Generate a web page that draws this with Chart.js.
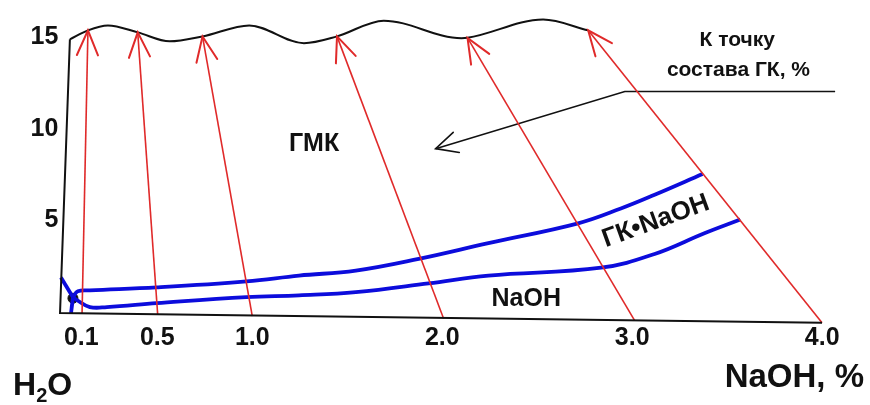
<!DOCTYPE html>
<html><head><meta charset="utf-8">
<script src="https://cdn.jsdelivr.net/npm/chart.js@4.4.1/dist/chart.umd.min.js"></script>
<style>html,body{margin:0;padding:0;background:#fff}#wrap{width:870px;height:405px;position:relative}</style>
</head><body><div id="wrap"><canvas id="c" width="870" height="405"></canvas></div>
<script>
// ---- tick labels ----
const xTickValues = [0.1, 0.5, 1.0, 2.0, 3.0, 4.0];
const yTickValues = [5, 10, 15];

// ---- frame (left side and base line of the diagram) ----
const frameX = [0.040, -0.012, 3.999];
const frameY = [14.89, -0.05, -0.59];

// ---- upper wavy boundary ----
const topX = [0.040, 0.135, 0.240, 0.397, 0.565, 0.738, 0.984, 1.272, 1.446, 1.692, 2.101, 2.133, 2.531, 2.768];
const topY = [14.89, 15.38, 15.65, 15.27, 14.78, 15.05, 15.65, 14.68, 15.05, 15.91, 14.95, 14.97, 15.97, 15.38];

// ---- red tie lines (from base point to upper boundary) ----
const tieBottomX = [0.104, 0.502, 1.000, 2.007, 3.013, 3.999];
const tieBottomY = [-0.07, -0.12, -0.22, -0.35, -0.47, -0.59];
const tieTopX = [0.135, 0.397, 0.738, 1.446, 2.133, 2.768];
const tieTopY = [15.38, 15.27, 15.05, 15.05, 14.97, 15.38];

// ---- blue boundaries ----
const upperBlueX = [0.056, 0.082, 0.145, 0.497, 0.969, 1.246, 1.545, 1.876, 2.243, 2.715, 2.940, 3.118, 3.370];
const upperBlueY = [0.81, 1.13, 1.18, 1.34, 1.67, 1.99, 2.26, 2.90, 3.76, 4.84, 5.65, 6.40, 7.53];
const lowerBlueX = [0.056, 0.077, 0.145, 0.235, 0.497, 0.969, 1.246, 1.545, 1.928, 2.243, 2.836, 3.118, 3.380, 3.569];
const lowerBlueY = [0.81, 0.65, 0.27, 0.27, 0.48, 0.81, 0.91, 1.08, 1.56, 1.99, 2.42, 3.17, 4.30, 5.05];
const stubBlueX = [-0.007, 0.056];
const stubBlueY = [1.88, 0.81];
const downBlueX = [0.056, 0.046];
const downBlueY = [0.81, -0.05];
const dotX = [0.056];
const dotY = [0.75];

// ---- black pointer "К точке состава ГК" ----
const pointerX = [4.068, 2.961, 1.965];
const pointerY = [12.04, 12.04, 8.92];

const FONT = '"Liberation Sans", Arial, Helvetica, sans-serif';
const INK = '#111111';
const RED = '#e02a2a';
const BLUE = '#0c0cdc';
const XMAX = 4.22, YMAX = 16;

const pts = (xs, ys) => xs.map((x, i) => ({x: x, y: ys[i]}));
const line = (data, color, width, tension, extra) => Object.assign({
  data: data, borderColor: color, backgroundColor: color, borderWidth: width,
  tension: tension, showLine: true, pointRadius: 0, clip: false, fill: false
}, extra || {});

const datasets = [];
datasets.push(line(pts(frameX, frameY), INK, 2, 0));
datasets.push(line(pts(topX, topY), INK, 2, 0, {cubicInterpolationMode: 'monotone'}));
for (let i = 0; i < tieBottomX.length; i++) {
  datasets.push(line([{x: tieBottomX[i], y: tieBottomY[i]}, {x: tieTopX[i], y: tieTopY[i]}], RED, 1.6, 0, {arrowHead: {len: 27, ang: 23, width: 2}}));
}
datasets.push(line(pts(upperBlueX, upperBlueY), BLUE, 3.8, 0.4));
datasets.push(line(pts(lowerBlueX, lowerBlueY), BLUE, 3.8, 0.4));
datasets.push(line(pts(stubBlueX, stubBlueY), BLUE, 3.8, 0));
datasets.push(line(pts(downBlueX, downBlueY), BLUE, 3.8, 0));
datasets.push({data: pts(dotX, dotY), showLine: false, pointRadius: 5, pointBackgroundColor: INK, pointBorderColor: INK, clip: false});
datasets.push(line(pts(pointerX, pointerY), INK, 1.6, 0, {arrowHead: {len: 24, ang: 26, width: 1.6}}));

// text notes placed in data units
const notes = [
  {t: 'ГМК', x: 1.325, y: 9.19, size: 25, rot: 0},
  {t: 'К точку', x: 3.553, y: 14.84, size: 21, rot: 0},
  {t: 'состава ГК, %', x: 3.559, y: 13.23, size: 21, rot: 0},
  {t: 'ГК•NaOH', x: 3.124, y: 4.95, size: 26, rot: -20},
  {t: 'NaOH', x: 2.442, y: 0.70, size: 25, rot: 0}
];

const arrowPlugin = {
  id: 'arrowHeads',
  afterDatasetsDraw(chart) {
    const ctx = chart.ctx;
    chart.data.datasets.forEach((ds, i) => {
      if (!ds.arrowHead) return;
      const p = chart.getDatasetMeta(i).data;
      const a = p[p.length - 2], b = p[p.length - 1];
      const th = Math.atan2(b.y - a.y, b.x - a.x);
      const w = ds.arrowHead.ang * Math.PI / 180, L = ds.arrowHead.len;
      ctx.save();
      ctx.strokeStyle = ds.borderColor; ctx.lineWidth = ds.arrowHead.width; ctx.lineCap = 'round';
      ctx.beginPath();
      ctx.moveTo(b.x - L * Math.cos(th - w), b.y - L * Math.sin(th - w));
      ctx.lineTo(b.x, b.y);
      ctx.lineTo(b.x - L * Math.cos(th + w), b.y - L * Math.sin(th + w));
      ctx.stroke();
      ctx.restore();
    });
  }
};

const notesPlugin = {
  id: 'notes',
  afterDraw(chart) {
    const ctx = chart.ctx, sx = chart.scales.x, sy = chart.scales.y;
    ctx.save();
    ctx.fillStyle = INK;
    ctx.textAlign = 'center';
    ctx.textBaseline = 'middle';
    notes.forEach(n => {
      ctx.save();
      ctx.translate(sx.getPixelForValue(n.x), sy.getPixelForValue(n.y));
      ctx.rotate(n.rot * Math.PI / 180);
      ctx.font = 'bold ' + n.size + 'px ' + FONT;
      ctx.fillText(n.t, 0, 0);
      ctx.restore();
    });
    // H2O with subscript, anchored in data units below the origin
    const hx = sx.getPixelForValue(-0.259), hy = sy.getPixelForValue(-4.03);
    ctx.textAlign = 'left';
    ctx.font = 'bold 32px ' + FONT;
    ctx.fillText('H', hx, hy);
    let w = ctx.measureText('H').width;
    ctx.font = 'bold 20px ' + FONT;
    ctx.fillText('2', hx + w, hy + 11);
    w += ctx.measureText('2').width;
    ctx.font = 'bold 32px ' + FONT;
    ctx.fillText('O', hx + w, hy);
    ctx.restore();
  }
};

new Chart(document.getElementById('c'), {
  type: 'scatter',
  data: {datasets: datasets},
  options: {
    responsive: false,
    animation: false,
    events: [],
    layout: {padding: {top: 14.4, right: 3, bottom: 0, left: 0}},
    plugins: {legend: {display: false}, tooltip: {enabled: false}},
    scales: {
      x: {
        type: 'linear', min: 0, max: XMAX,
        grid: {display: false, drawTicks: false},
        border: {display: false},
        afterBuildTicks: s => { s.ticks = xTickValues.map(v => ({value: v})); },
        ticks: {
          callback: v => Number(v).toFixed(1),
          font: {family: FONT, size: 25, weight: 'bold'}, color: INK,
          padding: 11, maxRotation: 0, autoSkip: false
        },
        title: {
          display: true, text: 'NaOH, %', align: 'end', color: INK,
          font: {family: FONT, size: 33, weight: 'bold'},
          padding: {top: 0, bottom: 7}
        },
        afterFit: s => { s.height = 93; }
      },
      y: {
        type: 'linear', min: 0, max: YMAX,
        grid: {display: false, drawTicks: false},
        border: {display: false},
        afterBuildTicks: s => { s.ticks = yTickValues.map(v => ({value: v})); },
        ticks: {
          callback: v => String(v),
          font: {family: FONT, size: 25, weight: 'bold'}, color: INK,
          padding: 4, autoSkip: false
        },
        afterFit: s => { s.width = 62.3; }
      }
    }
  },
  plugins: [arrowPlugin, notesPlugin]
});
</script>
</body></html>
